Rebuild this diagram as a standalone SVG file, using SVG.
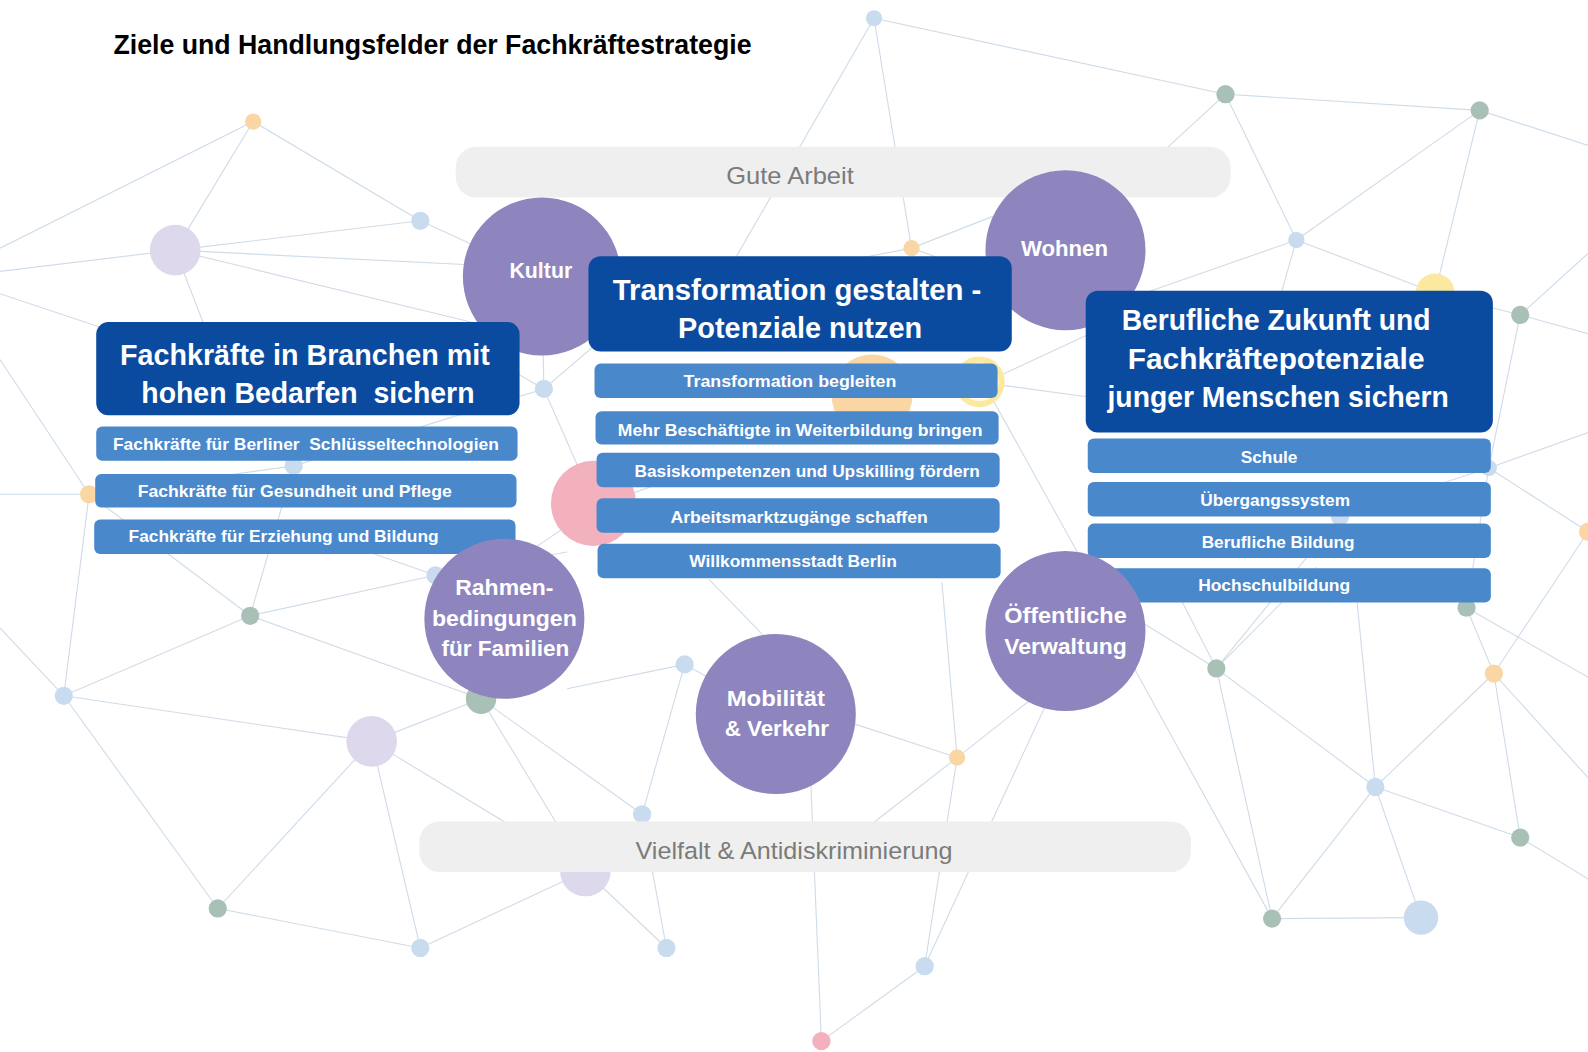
<svg xmlns="http://www.w3.org/2000/svg" width="1588" height="1052" viewBox="0 0 1588 1052">
<style>
.ln{stroke:#cfdce8;stroke-width:1.1;fill:none}
.lb{fill:#c8dbef}.gg{fill:#a9c0b7}.or{fill:#f9d6a3}.lv{fill:#ddd8eb}.pk{fill:#f2b1bc}.ye{fill:#fbe9a0}
.bar{fill:#efefef}
.bt{font-family:"Liberation Sans",Arial,sans-serif;font-size:24px;fill:#7b7b7b;text-anchor:middle}
.pc{fill:#8f85be}
.ct{font-family:"Liberation Sans",Arial,sans-serif;font-weight:bold;font-size:22px;fill:#ffffff;text-anchor:middle}
.hb{fill:#0b4b9f}
.ht{font-family:"Liberation Sans",Arial,sans-serif;font-weight:bold;font-size:30px;fill:#ffffff;text-anchor:middle}
.sb{fill:#4a88cc}
.st{font-family:"Liberation Sans",Arial,sans-serif;font-weight:bold;font-size:17px;fill:#ffffff;text-anchor:middle}
.title{font-family:"Liberation Sans",Arial,sans-serif;font-weight:bold;font-size:27px;fill:#000000}
</style>
<rect width="1588" height="1052" fill="#ffffff"/>
<g transform="scale(1.0128)">
<g id="connectors">
<line class="ln" x1="0" y1="245" x2="250" y2="120"/>
<line class="ln" x1="250" y1="120" x2="173" y2="247"/>
<line class="ln" x1="250" y1="120" x2="415" y2="218"/>
<line class="ln" x1="0" y1="268" x2="173" y2="247"/>
<line class="ln" x1="173" y1="247" x2="415" y2="218"/>
<line class="ln" x1="173" y1="247" x2="535" y2="265"/>
<line class="ln" x1="173" y1="247" x2="535" y2="335"/>
<line class="ln" x1="173" y1="247" x2="205" y2="330"/>
<line class="ln" x1="0" y1="290" x2="105" y2="325"/>
<line class="ln" x1="415" y1="218" x2="535" y2="273"/>
<line class="ln" x1="863" y1="18" x2="700" y2="300"/>
<line class="ln" x1="863" y1="18" x2="900" y2="245"/>
<line class="ln" x1="863" y1="18" x2="1210" y2="93"/>
<line class="ln" x1="1210" y1="93" x2="1050" y2="240"/>
<line class="ln" x1="1210" y1="93" x2="1461" y2="109"/>
<line class="ln" x1="1210" y1="93" x2="1280" y2="237"/>
<line class="ln" x1="1461" y1="109" x2="1280" y2="237"/>
<line class="ln" x1="1461" y1="109" x2="1417" y2="289"/>
<line class="ln" x1="1461" y1="109" x2="1588" y2="150"/>
<line class="ln" x1="1280" y1="237" x2="1417" y2="289"/>
<line class="ln" x1="1280" y1="237" x2="1100" y2="300"/>
<line class="ln" x1="1280" y1="237" x2="1262" y2="300"/>
<line class="ln" x1="900" y1="245" x2="1000" y2="206"/>
<line class="ln" x1="900" y1="245" x2="760" y2="272"/>
<line class="ln" x1="900" y1="245" x2="970" y2="270"/>
<line class="ln" x1="1417" y1="289" x2="1501" y2="311"/>
<line class="ln" x1="1501" y1="311" x2="1588" y2="232"/>
<line class="ln" x1="1501" y1="311" x2="1588" y2="335"/>
<line class="ln" x1="1501" y1="311" x2="1470" y2="462"/>
<line class="ln" x1="1470" y1="462" x2="1588" y2="420"/>
<line class="ln" x1="1470" y1="462" x2="1568" y2="525"/>
<line class="ln" x1="1470" y1="462" x2="1448" y2="600"/>
<line class="ln" x1="1470" y1="462" x2="1323" y2="510"/>
<line class="ln" x1="1323" y1="510" x2="1201" y2="660"/>
<line class="ln" x1="1448" y1="600" x2="1588" y2="680"/>
<line class="ln" x1="1448" y1="600" x2="1475" y2="665"/>
<line class="ln" x1="1201" y1="660" x2="1300" y2="560"/>
<line class="ln" x1="1475" y1="665" x2="1568" y2="525"/>
<line class="ln" x1="1475" y1="665" x2="1358" y2="777"/>
<line class="ln" x1="1475" y1="665" x2="1501" y2="827"/>
<line class="ln" x1="1475" y1="665" x2="1588" y2="790"/>
<line class="ln" x1="1358" y1="777" x2="1201" y2="660"/>
<line class="ln" x1="1358" y1="777" x2="1256" y2="907"/>
<line class="ln" x1="1358" y1="777" x2="1403" y2="906"/>
<line class="ln" x1="1358" y1="777" x2="1501" y2="827"/>
<line class="ln" x1="1358" y1="777" x2="1340" y2="595"/>
<line class="ln" x1="1501" y1="827" x2="1588" y2="880"/>
<line class="ln" x1="1256" y1="907" x2="1403" y2="906"/>
<line class="ln" x1="1256" y1="907" x2="1120" y2="660"/>
<line class="ln" x1="1256" y1="907" x2="1201" y2="660"/>
<line class="ln" x1="1201" y1="660" x2="1120" y2="610"/>
<line class="ln" x1="1201" y1="660" x2="1165" y2="590"/>
<line class="ln" x1="945" y1="748" x2="835" y2="712"/>
<line class="ln" x1="945" y1="748" x2="930" y2="575"/>
<line class="ln" x1="945" y1="748" x2="1025" y2="685"/>
<line class="ln" x1="945" y1="748" x2="850" y2="822"/>
<line class="ln" x1="945" y1="748" x2="913" y2="954"/>
<line class="ln" x1="913" y1="954" x2="1040" y2="680"/>
<line class="ln" x1="913" y1="954" x2="811" y2="1028"/>
<line class="ln" x1="811" y1="1028" x2="800" y2="760"/>
<line class="ln" x1="676" y1="656" x2="766" y2="705"/>
<line class="ln" x1="676" y1="656" x2="560" y2="680"/>
<line class="ln" x1="676" y1="656" x2="634" y2="804"/>
<line class="ln" x1="634" y1="804" x2="658" y2="936"/>
<line class="ln" x1="634" y1="804" x2="475" y2="690"/>
<line class="ln" x1="578" y1="860" x2="475" y2="690"/>
<line class="ln" x1="578" y1="860" x2="658" y2="936"/>
<line class="ln" x1="578" y1="860" x2="415" y2="936"/>
<line class="ln" x1="578" y1="860" x2="367" y2="732"/>
<line class="ln" x1="475" y1="690" x2="367" y2="732"/>
<line class="ln" x1="367" y1="732" x2="63" y2="687"/>
<line class="ln" x1="367" y1="732" x2="215" y2="897"/>
<line class="ln" x1="367" y1="732" x2="415" y2="936"/>
<line class="ln" x1="215" y1="897" x2="415" y2="936"/>
<line class="ln" x1="215" y1="897" x2="63" y2="687"/>
<line class="ln" x1="63" y1="687" x2="0" y2="620"/>
<line class="ln" x1="63" y1="687" x2="88" y2="488"/>
<line class="ln" x1="63" y1="687" x2="247" y2="608"/>
<line class="ln" x1="247" y1="608" x2="430" y2="568"/>
<line class="ln" x1="247" y1="608" x2="475" y2="690"/>
<line class="ln" x1="247" y1="608" x2="290" y2="460"/>
<line class="ln" x1="247" y1="608" x2="88" y2="488"/>
<line class="ln" x1="88" y1="488" x2="0" y2="488"/>
<line class="ln" x1="88" y1="488" x2="0" y2="355"/>
<line class="ln" x1="88" y1="488" x2="290" y2="460"/>
<line class="ln" x1="290" y1="460" x2="537" y2="384"/>
<line class="ln" x1="537" y1="384" x2="535" y2="273"/>
<line class="ln" x1="537" y1="384" x2="588" y2="500"/>
<line class="ln" x1="537" y1="384" x2="470" y2="345"/>
<line class="ln" x1="537" y1="384" x2="600" y2="330"/>
<line class="ln" x1="430" y1="568" x2="560" y2="545"/>
<line class="ln" x1="430" y1="568" x2="350" y2="540"/>
<line class="ln" x1="588" y1="500" x2="700" y2="460"/>
<line class="ln" x1="588" y1="500" x2="500" y2="560"/>
<line class="ln" x1="700" y1="572" x2="766" y2="640"/>
<line class="ln" x1="972" y1="378" x2="1075" y2="330"/>
<line class="ln" x1="972" y1="378" x2="1075" y2="392"/>
<line class="ln" x1="975" y1="385" x2="1072" y2="560"/>
</g>
<g id="dots">
<circle class="or" cx="250" cy="120" r="8"/>
<circle class="lv" cx="173" cy="247" r="25"/>
<circle class="lb" cx="415" cy="218" r="9"/>
<circle class="lb" cx="863" cy="18" r="8"/>
<circle class="gg" cx="1210" cy="93" r="9"/>
<circle class="gg" cx="1461" cy="109" r="9"/>
<circle class="lb" cx="1280" cy="237" r="8"/>
<circle class="or" cx="900" cy="245" r="8"/>
<circle class="ye" cx="1417" cy="289" r="19"/>
<circle class="gg" cx="1501" cy="311" r="9"/>
<circle class="lb" cx="537" cy="384" r="9"/>
<circle class="lb" cx="290" cy="460" r="9"/>
<circle class="or" cx="88" cy="488" r="9"/>
<circle class="pk" cx="586" cy="497" r="42"/>
<circle class="or" cx="861" cy="390" r="40"/>
<circle cx="967" cy="377" r="22" fill="#fffbea" stroke="#fbe9a0" stroke-width="6"/>
<circle class="lb" cx="430" cy="568" r="9"/>
<circle class="gg" cx="247" cy="608" r="9"/>
<circle class="lb" cx="63" cy="687" r="9"/>
<circle class="gg" cx="475" cy="690" r="15"/>
<circle class="lv" cx="367" cy="732" r="25"/>
<circle class="lb" cx="676" cy="656" r="9"/>
<circle class="or" cx="945" cy="748" r="8"/>
<circle class="gg" cx="1201" cy="660" r="9"/>
<circle class="or" cx="1475" cy="665" r="9"/>
<circle class="gg" cx="1448" cy="600" r="9"/>
<circle class="lb" cx="1358" cy="777" r="9"/>
<circle class="gg" cx="1501" cy="827" r="9"/>
<circle class="gg" cx="1256" cy="907" r="9"/>
<circle class="lb" cx="1403" cy="906" r="17"/>
<circle class="lb" cx="634" cy="804" r="9"/>
<circle class="lv" cx="578" cy="860" r="25"/>
<circle class="gg" cx="215" cy="897" r="9"/>
<circle class="lb" cx="415" cy="936" r="9"/>
<circle class="lb" cx="658" cy="936" r="9"/>
<circle class="lb" cx="913" cy="954" r="9"/>
<circle class="pk" cx="811" cy="1028" r="9"/>
<circle class="lb" cx="1470" cy="462" r="8"/>
<circle class="or" cx="1568" cy="525" r="9"/>
<circle class="lb" cx="1323" cy="510" r="9"/>
</g>
<text class="title" x="427" y="53" text-anchor="middle" textLength="630" lengthAdjust="spacingAndGlyphs">Ziele und Handlungsfelder der Fachkräftestrategie</text>
<g id="gute-arbeit">
<rect class="bar" x="450" y="145" width="765" height="50" rx="20"/>
<text class="bt" x="780" y="182" textLength="126" lengthAdjust="spacingAndGlyphs">Gute Arbeit</text>
</g>
<g id="vielfalt">
<rect class="bar" x="414" y="811" width="762" height="50" rx="20"/>
<text class="bt" x="784" y="848" textLength="313" lengthAdjust="spacingAndGlyphs">Vielfalt &amp; Antidiskriminierung</text>
</g>
<g id="kultur">
<circle class="pc" cx="535" cy="273" r="78"/>
<text class="ct" x="534" y="274" font-size="21" textLength="62" lengthAdjust="spacingAndGlyphs">Kultur</text>
</g>
<g id="wohnen">
<circle class="pc" cx="1052" cy="247" r="79"/>
<text class="ct" x="1051" y="253" font-size="21" textLength="86" lengthAdjust="spacingAndGlyphs">Wohnen</text>
</g>
<g id="branchen">
<rect class="hb" x="95" y="318" width="418" height="92" rx="12"/>
<text class="ht" x="301" y="360" textLength="365" lengthAdjust="spacingAndGlyphs">Fachkräfte in Branchen mit</text>
<text class="ht" x="304" y="398" xml:space="preserve" textLength="329" lengthAdjust="spacingAndGlyphs">hohen Bedarfen  sichern</text>
<rect class="sb" x="95" y="421" width="416" height="34" rx="6"/>
<text class="st" x="302" y="444" xml:space="preserve" textLength="381" lengthAdjust="spacingAndGlyphs">Fachkräfte für Berliner  Schlüsseltechnologien</text>
<rect class="sb" x="94" y="468" width="416" height="33" rx="6"/>
<text class="st" x="291" y="491" textLength="310" lengthAdjust="spacingAndGlyphs">Fachkräfte für Gesundheit und Pflege</text>
<rect class="sb" x="93" y="513" width="416" height="34" rx="6"/>
<text class="st" x="280" y="535" textLength="306" lengthAdjust="spacingAndGlyphs">Fachkräfte für Erziehung und Bildung</text>
</g>
<g id="transformation">
<rect class="hb" x="581" y="253" width="418" height="94" rx="12"/>
<text class="ht" x="787" y="296" textLength="364" lengthAdjust="spacingAndGlyphs">Transformation gestalten -</text>
<text class="ht" x="790" y="334" textLength="241" lengthAdjust="spacingAndGlyphs">Potenziale nutzen</text>
<rect class="sb" x="587" y="359" width="398" height="34" rx="6"/>
<text class="st" x="780" y="382" textLength="210" lengthAdjust="spacingAndGlyphs">Transformation begleiten</text>
<rect class="sb" x="588" y="406" width="398" height="33" rx="6"/>
<text class="st" x="790" y="430" textLength="360" lengthAdjust="spacingAndGlyphs">Mehr Beschäftigte in Weiterbildung bringen</text>
<rect class="sb" x="589" y="447" width="398" height="34" rx="6"/>
<text class="st" x="797" y="471" textLength="341" lengthAdjust="spacingAndGlyphs">Basiskompetenzen und Upskilling fördern</text>
<rect class="sb" x="589" y="492" width="398" height="34" rx="6"/>
<text class="st" x="789" y="516" textLength="254" lengthAdjust="spacingAndGlyphs">Arbeitsmarktzugänge schaffen</text>
<rect class="sb" x="590" y="537" width="398" height="34" rx="6"/>
<text class="st" x="783" y="560" textLength="205" lengthAdjust="spacingAndGlyphs">Willkommensstadt Berlin</text>
</g>
<g id="zukunft">
<rect class="hb" x="1072" y="287" width="402" height="140" rx="12"/>
<text class="ht" x="1260" y="326" textLength="305" lengthAdjust="spacingAndGlyphs">Berufliche Zukunft und</text>
<text class="ht" x="1260" y="364" textLength="293" lengthAdjust="spacingAndGlyphs">Fachkräftepotenziale</text>
<text class="ht" x="1262" y="402" textLength="337" lengthAdjust="spacingAndGlyphs">junger Menschen sichern</text>
<rect class="sb" x="1074" y="433" width="398" height="34" rx="6"/>
<text class="st" x="1253" y="457" textLength="56" lengthAdjust="spacingAndGlyphs">Schule</text>
<rect class="sb" x="1074" y="476" width="398" height="34" rx="6"/>
<text class="st" x="1259" y="500" textLength="148" lengthAdjust="spacingAndGlyphs">Übergangssystem</text>
<rect class="sb" x="1074" y="517" width="398" height="34" rx="6"/>
<text class="st" x="1262" y="541" textLength="151" lengthAdjust="spacingAndGlyphs">Berufliche Bildung</text>
<rect class="sb" x="1074" y="561" width="398" height="34" rx="6"/>
<text class="st" x="1258" y="584" textLength="150" lengthAdjust="spacingAndGlyphs">Hochschulbildung</text>
</g>
<g id="rahmenbedingungen">
<circle class="pc" cx="498" cy="611" r="79"/>
<text class="ct" x="498" y="587" font-size="23" textLength="97" lengthAdjust="spacingAndGlyphs">Rahmen-</text>
<text class="ct" x="498" y="618" font-size="23" textLength="143" lengthAdjust="spacingAndGlyphs">bedingungen</text>
<text class="ct" x="499" y="648" font-size="23" textLength="126" lengthAdjust="spacingAndGlyphs">für Familien</text>
</g>
<g id="mobilitaet">
<circle class="pc" cx="766" cy="705" r="79"/>
<text class="ct" x="766" y="697" font-size="23" textLength="97" lengthAdjust="spacingAndGlyphs">Mobilität</text>
<text class="ct" x="767" y="727" font-size="23" textLength="103" lengthAdjust="spacingAndGlyphs">&amp; Verkehr</text>
</g>
<g id="verwaltung">
<circle class="pc" cx="1052" cy="623" r="79"/>
<text class="ct" x="1052" y="615" font-size="23" textLength="121" lengthAdjust="spacingAndGlyphs">Öffentliche</text>
<text class="ct" x="1052" y="646" font-size="23" textLength="121" lengthAdjust="spacingAndGlyphs">Verwaltung</text>
</g>
</g>
</svg>
